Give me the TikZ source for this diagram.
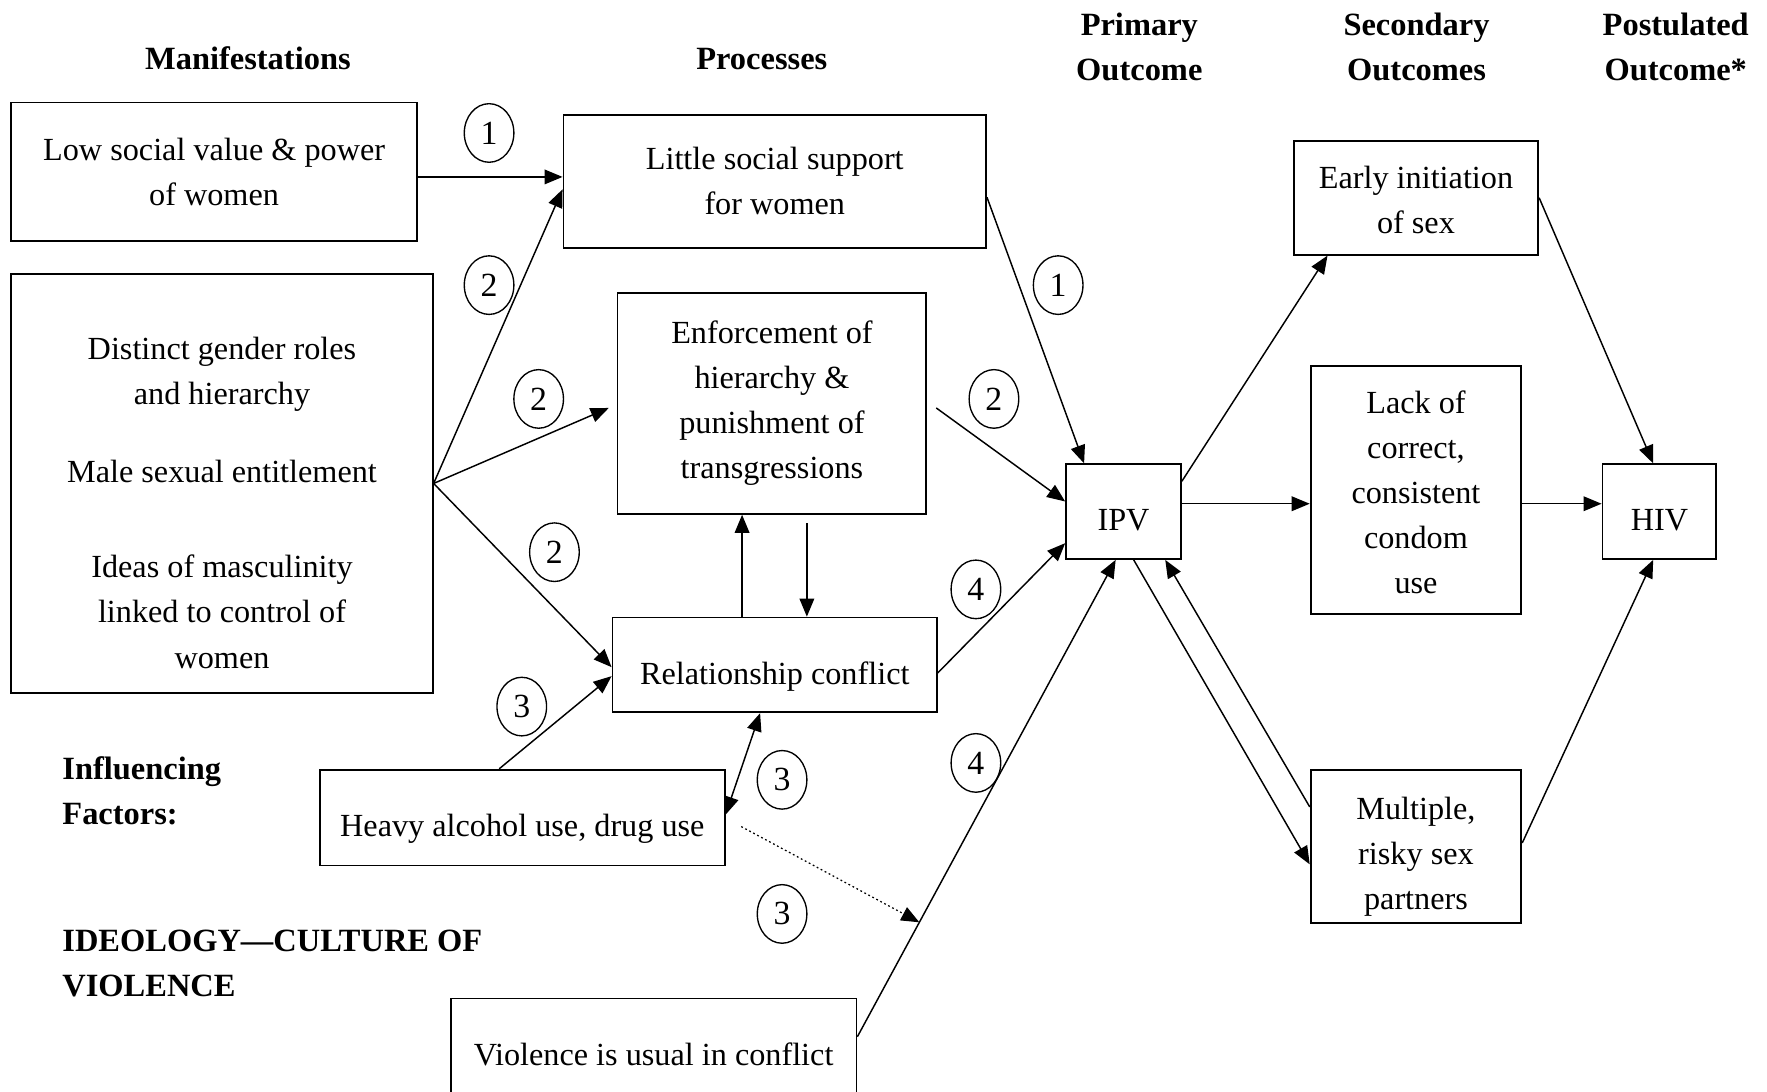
\documentclass[tikz,border=0pt]{standalone}
\usepackage{fontspec}
\setmainfont{Liberation Serif}
\usetikzlibrary{arrows.meta,shapes.geometric}

\newcommand{\boxfont}{\fontsize{14.3}{20}\selectfont}
\newcommand{\headfont}{\fontsize{14.4}{20}\selectfont\bfseries}

\begin{document}
\begin{tikzpicture}[x=0.5pt,y=-0.5pt,
    box/.style={draw, line width=0.8pt, align=center, inner sep=0pt, font=\boxfont},
    sunk/.style={text height=20pt, text depth=3pt},
    head/.style={align=center, inner sep=0pt, font=\headfont},
    num/.style={draw, ellipse, line width=0.6pt, minimum width=22pt, minimum height=26pt, inner sep=0pt, font=\fontsize{15}{18}\selectfont},
    arr/.style={line width=0.65pt, -{Triangle[length=8pt,width=6.5pt]}},
    twoway/.style={line width=0.65pt, {Triangle[length=8pt,width=6.5pt]}-{Triangle[length=8pt,width=6.5pt]}},
    hint/.style={line width=0.55pt, dash pattern=on 0.8pt off 1.2pt, -{Triangle[length=8pt,width=6.5pt]}}]
    \useasboundingbox (0,0) rectangle (1568,969);

    \node[head] (hman) at (220,52) {Manifestations};
    \node[head] (hproc) at (676,52) {Processes};
    \node[head] (hprim) at (1011,42) {Primary\\Outcome};
    \node[head] (hsec) at (1257,42) {Secondary\\Outcomes};
    \node[head] (hpost) at (1487,42) {Postulated\\Outcome*};
    \node[head, anchor=west, align=left] (hinf) at (55,702) {Influencing\\Factors:};
    \node[head, anchor=west, align=left] (hideo) at (55,855) {IDEOLOGY—CULTURE OF\\VIOLENCE};

    \node[box, minimum width=180pt, minimum height=61.5pt] (low) at (190,152.5) {Low social value \& power\\of women};
    \node[box, minimum width=187.5pt, minimum height=59pt] (support) at (687.5,161) {Little social support\\for women};
    \node[box, minimum width=187pt, minimum height=186pt] (roles) at (197,429) {};
    \node[align=center, inner sep=0pt, font=\boxfont] (rolestext) at (197,446) {Distinct gender roles\\and hierarchy\\[14.5pt]Male sexual entitlement\\[22.5pt]Ideas of masculinity\\linked to control of\\women};
    \node[box, minimum width=137pt, minimum height=98pt] (enforce) at (685,358) {Enforcement of\\hierarchy \&\\punishment of\\transgressions};
    \node[box, sunk, minimum width=144pt, minimum height=42pt] (conflict) at (687.5,590) {Relationship conflict};
    \node[box, sunk, minimum width=179.5pt, minimum height=42.5pt] (alcohol) at (463.5,725.5) {Heavy alcohol use, drug use};
    \node[box, minimum width=180pt, minimum height=50pt] (violence) at (580,936) {Violence is usual in conflict};
    \node[box, sunk, minimum width=51pt, minimum height=42pt] (ipv) at (997,454) {IPV};
    \node[box, minimum width=108.5pt, minimum height=50.5pt] (early) at (1256.5,175.5) {\rule{0pt}{11.8pt}Early initiation\\of sex};
    \node[box, minimum width=93.5pt, minimum height=110pt] (lack) at (1256.5,435) {\rule{0pt}{11.8pt}Lack of\\correct,\\consistent\\condom\\use};
    \node[box, minimum width=93.5pt, minimum height=68pt] (multiple) at (1256.5,751) {\rule{0pt}{18.8pt}Multiple,\\risky sex\\partners};
    \node[box, sunk, minimum width=50.5pt, minimum height=42pt] (hiv) at (1472.5,454) {HIV};

    \node[num] (n1a) at (434,118) {1};
    \node[num] (n2a) at (434,253) {2};
    \node[num] (n2b) at (478,354) {2};
    \node[num] (n2c) at (492,490) {2};
    \node[num] (n3a) at (463,627) {3};
    \node[num] (n1b) at (939,253) {1};
    \node[num] (n2d) at (882,354) {2};
    \node[num] (n4a) at (866,523) {4};
    \node[num] (n3b) at (694,692) {3};
    \node[num] (n4b) at (866,677) {4};
    \node[num] (n3c) at (694,811) {3};

    \draw[arr] ([yshift=-2.25pt]low.east) -- ([yshift=-2.25pt]low.east -| support.west);
    \draw[arr] (roles.east) -- ([yshift=-3.5pt]support.west);
    \draw[arr] (roles.east) -- ([xshift=-3.5pt,yshift=-2pt]enforce.west);
    \draw[arr] (roles.east) -- ([yshift=-1pt]conflict.west);
    \draw[arr] ([xshift=-10.25pt]alcohol.north) -- ([yshift=-5pt]conflict.west);
    \draw[arr] ([xshift=-14.5pt]conflict.north) -- ([xshift=-14.5pt]conflict.north |- enforce.south);
    \draw[arr] ([xshift=14.25pt,yshift=-3.75pt]conflict.north |- enforce.south) -- ([xshift=14.25pt]conflict.north);
    \draw[twoway] ([xshift=-6.5pt]conflict.south) -- ([yshift=1.25pt]alcohol.east);
    \draw[arr] ([yshift=-7pt]support.east) -- ([xshift=-17.5pt]ipv.north);
    \draw[arr] ([xshift=4pt,yshift=-2pt]enforce.east) -- ([yshift=4.5pt]ipv.west);
    \draw[arr] ([yshift=-3.5pt]conflict.east) -- ([yshift=-14pt]ipv.west);
    \draw[arr] ([yshift=8pt]violence.east) -- coordinate[pos=0.24] (hit) ([xshift=-3.5pt]ipv.south);
    \draw[hint] ([xshift=7pt,yshift=-4pt]alcohol.east) -- (hit);
    \draw[arr] ([yshift=13.5pt]ipv.east) -- ([xshift=-39.25pt]early.south);
    \draw[arr] ([yshift=3.5pt]ipv.east) -- ([yshift=3.5pt]ipv.east -| lack.west);
    \draw[arr] ([xshift=4.5pt]ipv.south) -- ([yshift=-8pt]multiple.west);
    \draw[arr] ([yshift=17.5pt]multiple.west) -- ([xshift=18.5pt]ipv.south);
    \draw[arr] (early.east) -- ([xshift=-2.75pt]hiv.north);
    \draw[arr] ([yshift=-6pt]lack.east) -- ([yshift=-6pt]lack.east -| hiv.west);
    \draw[arr] ([yshift=1.5pt]multiple.east) -- ([xshift=-2.75pt]hiv.south);
\end{tikzpicture}
\end{document}
